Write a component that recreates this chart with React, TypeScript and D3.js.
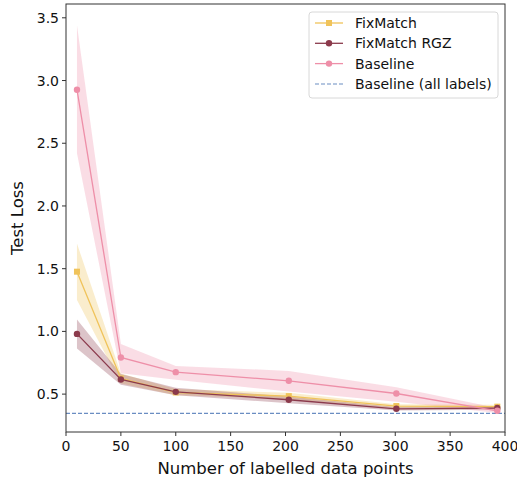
import React from "react";
import * as d3 from "d3";

const xs = [10, 50, 100, 203, 301, 393];

const fixMean = [1.476, 0.625, 0.513, 0.484, 0.405, 0.4];
const fixLow = [1.25, 0.585, 0.49, 0.46, 0.39, 0.385];
const fixHigh = [1.7, 0.665, 0.54, 0.51, 0.42, 0.415];

const rgzMean = [0.98, 0.617, 0.518, 0.455, 0.383, 0.389];
const rgzLow = [0.864, 0.575, 0.49, 0.428, 0.37, 0.375];
const rgzHigh = [1.094, 0.66, 0.55, 0.482, 0.398, 0.402];

const baseMean = [2.927, 0.792, 0.675, 0.606, 0.505, 0.367];
const baseLow = [2.42, 0.667, 0.615, 0.52, 0.44, 0.35];
const baseHigh = [3.44, 0.9, 0.725, 0.685, 0.555, 0.39];

const allLabels = 0.346;

const xTicks = [0, 50, 100, 150, 200, 250, 300, 350, 400];
const yTicks = [0.5, 1.0, 1.5, 2.0, 2.5, 3.0, 3.5];

const series = [
  { name: "FixMatch", mean: fixMean, low: fixLow, high: fixHigh, color: "#f0c35a", marker: "square" },
  { name: "FixMatch RGZ", mean: rgzMean, low: rgzLow, high: rgzHigh, color: "#8b3a4c", marker: "circle" },
  { name: "Baseline", mean: baseMean, low: baseLow, high: baseHigh, color: "#ee8fa8", marker: "circle" },
];

const W = 517, H = 486;
const L = 66, R = 505, T = 4, B = 432;
const font = "DejaVu Sans, sans-serif";

export default function App() {
  const x = d3.scaleLinear().domain([0, 400]).range([L, R]);
  const y = d3.scaleLinear().domain([0.198, 3.61]).range([B, T]);

  const line = d3.line<number>().x((_, i) => x(xs[i])).y((d) => y(d));

  return (
    <svg width={W} height={H} style={{ position: "absolute", left: 0, top: 0 }} fontFamily={font}>
      <rect x={0} y={0} width={W} height={H} fill="white" />
      {series.map((s) => {
        const area = d3
          .area<number>()
          .x((_, i) => x(xs[i]))
          .y0((_, i) => y(s.low[i]))
          .y1((_, i) => y(s.high[i]));
        return (
          <path key={s.name + "a"} d={area(s.mean) || ""} fill={s.color} opacity={0.3} />
        );
      })}
      <line x1={L} x2={R} y1={y(allLabels)} y2={y(allLabels)} stroke="#6a8dc2" strokeWidth={1.2} strokeDasharray="4,2" />
      {series.map((s) => (
        <g key={s.name}>
          <path d={line(s.mean) || ""} fill="none" stroke={s.color} strokeWidth={1.3} />
          {s.mean.map((v, i) =>
            s.marker === "square" ? (
              <rect key={i} x={x(xs[i]) - 3} y={y(v) - 3} width={6} height={6} fill={s.color} />
            ) : (
              <circle key={i} cx={x(xs[i])} cy={y(v)} r={3.2} fill={s.color} />
            )
          )}
        </g>
      ))}
      {/* spines */}
      <rect x={L} y={T} width={R - L} height={B - T} fill="none" stroke="#333" strokeWidth={1} />
      {xTicks.map((t) => (
        <g key={t}>
          <line x1={x(t)} x2={x(t)} y1={B} y2={B + 4} stroke="#333" />
          <text x={x(t)} y={B + 19} textAnchor="middle" fontSize={14} fill="#111">{t}</text>
        </g>
      ))}
      {yTicks.map((t) => (
        <g key={t}>
          <line x1={L - 4} x2={L} y1={y(t)} y2={y(t)} stroke="#333" />
          <text x={L - 7} y={y(t) + 5} textAnchor="end" fontSize={14} fill="#111">{t.toFixed(1)}</text>
        </g>
      ))}
      <text x={(L + R) / 2} y={474} textAnchor="middle" fontSize={16.5} fill="#111">Number of labelled data points</text>
      <text transform={`translate(23,${(T + B) / 2}) rotate(-90)`} textAnchor="middle" fontSize={16.5} fill="#111">Test Loss</text>
      {/* legend */}
      <rect x={309} y={12} width={189} height={86} rx={3} fill="white" fillOpacity={0.8} stroke="#d8d8d8" />
      {series.map((s, i) => {
        const ly = 23 + i * 20.3;
        return (
          <g key={s.name + "l"}>
            <line x1={315} x2={343} y1={ly} y2={ly} stroke={s.color} strokeWidth={1.3} />
            {s.marker === "square" ? (
              <rect x={326} y={ly - 3} width={6} height={6} fill={s.color} />
            ) : (
              <circle cx={329} cy={ly} r={3.2} fill={s.color} />
            )}
            <text x={355} y={ly + 5} fontSize={14} fill="#111">{s.name}</text>
          </g>
        );
      })}
      <line x1={315} x2={343} y1={84} y2={84} stroke="#6a8dc2" strokeWidth={1.2} strokeDasharray="4,2" />
      <text x={355} y={89} fontSize={14} fill="#111">Baseline (all labels)</text>
    </svg>
  );
}
